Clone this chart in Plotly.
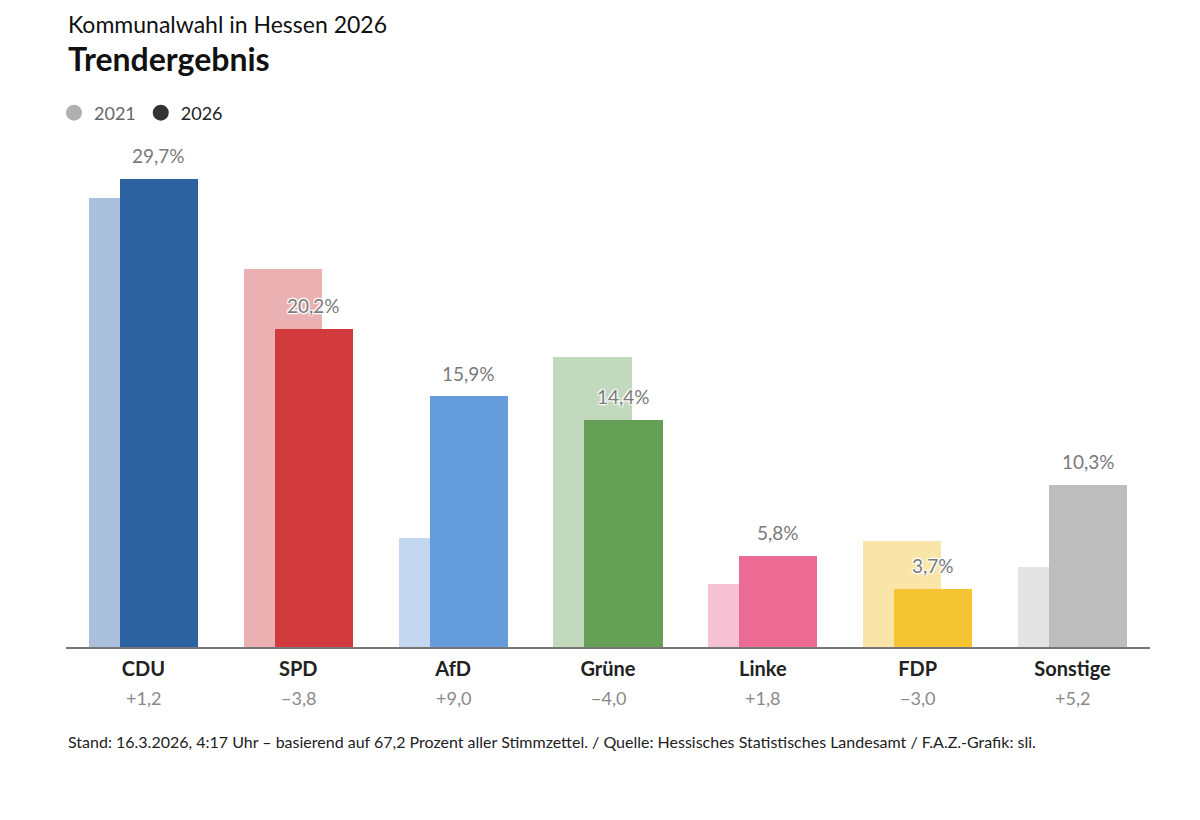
import plotly.graph_objects as go

parties = ["CDU", "SPD", "AfD", "Grüne", "Linke", "FDP", "Sonstige"]
values_2021 = [28.5, 24.0, 6.9, 18.4, 4.0, 6.7, 5.1]
values_2026 = [29.7, 20.2, 15.9, 14.4, 5.8, 3.7, 10.3]
changes = ["+1,2", "\u22123,8", "+9,0", "\u22124,0", "+1,8", "\u22123,0", "+5,2"]
colors_2021 = ["#a9bfdb", "#ebb0b1", "#c3d7f1", "#c3d9bd", "#f6c1d2", "#fae5a9", "#e4e4e4"]
colors_2026 = ["#2c62a0", "#d13a3c", "#659ddc", "#659f55", "#ec6b94", "#f4c432", "#bdbdbd"]

FONT = "Lato, 'Source Sans Pro', 'Noto Sans', sans-serif"
OFF = 8  # page body margin
W, H = 1200, 820
ML, MT = 66 - OFF, 174 - OFF
MR = W - (1150 - OFF)
MB = H - (647 - OFF)
PH = H - MT - MB
PW = W - ML - MR

def py(p):
    return ((H - MB) - (p - OFF)) / PH

def px(p):
    return ((p - OFF) - ML) / PW

idx = list(range(len(parties)))
shadow = "1px 1px 1px white, -1px -1px 1px white, 1px -1px 1px white, -1px 1px 1px white, 0 0 3px white"

fig = go.Figure()
fig.add_trace(go.Bar(x=idx, y=values_2021, marker=dict(color=colors_2021, line_width=0),
                     width=0.504, offset=-0.352, showlegend=False, hoverinfo="skip"))
fig.add_trace(go.Bar(x=idx, y=values_2026, marker=dict(color=colors_2026, line_width=0),
                     width=0.504, offset=-0.152, showlegend=False, hoverinfo="skip"))
fig.add_trace(go.Scatter(x=[None], y=[None], mode="markers", name="<span style='color:#666666'>2021</span>",
                         marker=dict(color="#b0b0b0", size=21, symbol="circle")))
fig.add_trace(go.Scatter(x=[None], y=[None], mode="markers", name="<span style='color:#222222'>2026</span>",
                         marker=dict(color="#333333", size=21, symbol="circle")))

annotations = []
for i, v in enumerate(values_2026):
    annotations.append(dict(x=i + 0.1, y=v, xref="x", yref="y", yshift=23, yanchor="middle",
                            text=f"{v:.1f}%".replace(".", ","), showarrow=False,
                            font=dict(family=FONT, size=19, color="#7a7a7a", shadow=shadow)))
for i, c in enumerate(changes):
    annotations.append(dict(x=i, y=py(698), xref="x", yref="paper", yanchor="middle", text=c, showarrow=False,
                            font=dict(family=FONT, size=18, color="#8a8a8a")))

annotations += [
    dict(x=px(66), y=py(24), xref="paper", yref="paper", xanchor="left", yanchor="middle",
         text="Kommunalwahl in Hessen 2026",
         showarrow=False, font=dict(family=FONT, size=23, color="#111111")),
    dict(x=px(66), y=py(58), xref="paper", yref="paper", xanchor="left", yanchor="middle",
         text="<b>Trendergebnis</b>",
         showarrow=False, font=dict(family=FONT, size=32, color="#111111")),
    dict(x=px(66), y=py(741), xref="paper", yref="paper", xanchor="left", yanchor="middle",
         text="Stand: 16.3.2026, 4:17 Uhr \u2013 basierend auf 67,2 Prozent aller Stimmzettel. / Quelle: Hessisches Statistisches Landesamt / F.A.Z.-Grafik: sli.",
         showarrow=False, font=dict(family=FONT, size=16, color="#222222")),
]

fig.update_layout(
    width=W, height=H, margin=dict(l=ML, r=MR, t=MT, b=MB, autoexpand=False),
    paper_bgcolor="white", plot_bgcolor="white",
    barmode="overlay", bargap=0,
    font=dict(family=FONT),
    showlegend=True,
    legend=dict(orientation="h", x=px(54), y=py(113), xanchor="left", yanchor="middle",
                font=dict(family=FONT, size=18, color="#333333"), itemwidth=30,
                tracegroupgap=0, bgcolor="rgba(0,0,0,0)"),
    xaxis=dict(range=[-0.5, 6.5], tickmode="array", tickvals=idx,
               ticktext=[f"<b>{p}</b>" for p in parties], showgrid=False, zeroline=False,
               showline=True, linecolor="#777777", linewidth=1.5, ticks="", ticklabelstandoff=3,
               tickfont=dict(family=FONT, size=20, color="#222222")),
    yaxis=dict(range=[0, 30], visible=False, showgrid=False, zeroline=False),
    annotations=annotations,
)

fig.write_html("out.html")
